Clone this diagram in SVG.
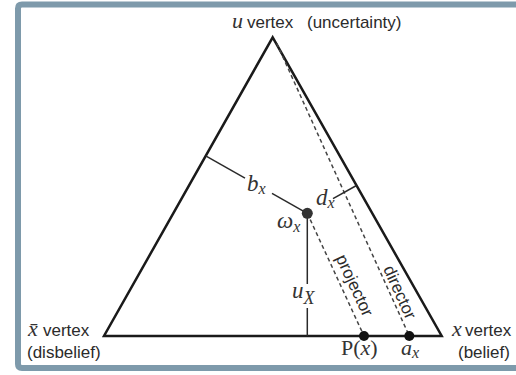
<svg xmlns="http://www.w3.org/2000/svg" width="516" height="375" viewBox="0 0 516 375">
<style>
.sans{font-family:"Liberation Sans",Arial,sans-serif;font-size:17px;fill:#2b2b2b}
.serif{font-family:"Liberation Serif","Times New Roman",serif;fill:#333}
.it{font-style:italic}
.edge{fill:none;stroke:#1a1a1a;stroke-width:2.5;stroke-linejoin:miter}
.lbl{fill:none;stroke:#2a2a2a;stroke-width:1.5}
.dash{fill:none;stroke:#444;stroke-width:1.5;stroke-dasharray:4 3}
.dot{fill:#111}
</style>
<path d="M516,4.5 H22 Q18,4.5 18,8.5 V364 Q18,368 22,368 H516" fill="none" stroke="#7e9aab" stroke-width="6"/>
<g id="triangle">
<polygon class="edge" points="272.7,37.3 441.7,336 104,336"/>
</g>
<g id="connectors">
<line class="dash" x1="276.7" y1="43.3" x2="409.3" y2="336"/>
<line class="dash" x1="307.3" y1="213.3" x2="364" y2="336"/>
<line class="lbl" x1="205.7" y1="155.9" x2="245" y2="178.1"/>
<line class="lbl" x1="272" y1="193.4" x2="307.3" y2="213.3"/>
<line class="lbl" x1="356.5" y1="185.5" x2="333" y2="198.7"/>
<line class="lbl" x1="307.3" y1="213.3" x2="307.3" y2="284"/>
<line class="lbl" x1="307.3" y1="308" x2="307.3" y2="336"/>
</g>
<g id="omega">
<circle cx="307.3" cy="213.3" r="5.5" fill="#333"/>
<text class="serif it" x="277" y="228" font-size="23">ω<tspan font-size="16" dy="4">x</tspan></text>
</g>
<g id="u-vertex">
<text x="232" y="28"><tspan class="serif it" font-size="22">u</tspan><tspan class="sans" x="247">vertex</tspan><tspan class="sans" x="307">(uncertainty)</tspan></text>
</g>
<g id="xbar-vertex">
<text x="28" y="336"><tspan class="serif it" font-size="22">x̄</tspan><tspan class="sans" x="43">vertex</tspan></text>
<text class="sans" x="27" y="358">(disbelief)</text>
</g>
<g id="x-vertex">
<text x="452" y="336"><tspan class="serif it" font-size="22">x</tspan><tspan class="sans" x="465">vertex</tspan></text>
<text class="sans" x="458" y="358">(belief)</text>
</g>
<g id="bx">
<text class="serif it" x="247" y="191" font-size="23" fill="#555">b<tspan font-size="16" dy="3">x</tspan></text>
</g>
<g id="dx">
<text class="serif it" x="316" y="205" font-size="23" fill="#555">d<tspan font-size="16" dy="3">x</tspan></text>
</g>
<g id="ux">
<text class="serif it" x="292" y="298" font-size="23" fill="#555">u<tspan font-size="18" dy="6">X</tspan></text>
</g>
<g id="projector">
<text class="sans" transform="translate(349.4,287.7) rotate(65.2)" text-anchor="middle">projector</text>
</g>
<g id="director">
<text class="sans" transform="translate(394.6,294.6) rotate(65.6)" text-anchor="middle">director</text>
</g>
<g id="px">
<circle class="dot" cx="364" cy="336" r="5"/>
<text class="serif" x="341" y="355" font-size="22">P(<tspan class="it">x</tspan>)</text>
</g>
<g id="ax">
<circle class="dot" cx="409.3" cy="336" r="5"/>
<text class="serif it" x="401" y="355" font-size="22">a<tspan font-size="16" dy="3">x</tspan></text>
</g>
</svg>
